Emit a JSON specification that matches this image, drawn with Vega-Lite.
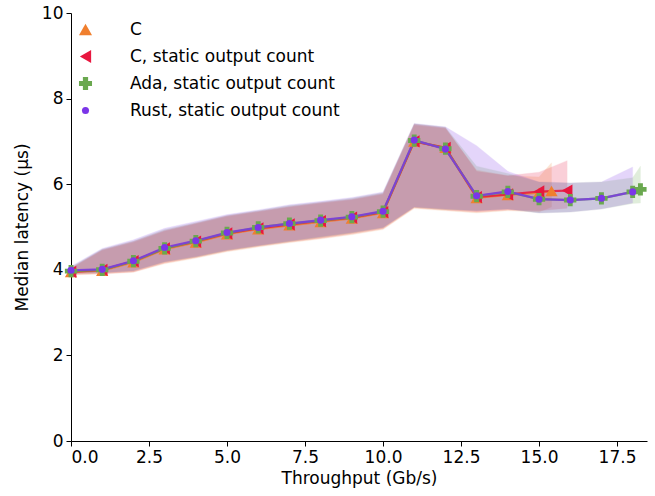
{
"$schema": "https://vega.github.io/schema/vega-lite/v6.json",
"width": 576, "height": 428,
"autosize": {"type": "none"},
"padding": {"left": 71, "top": 13, "right": 8, "bottom": 55},
"background": "white",
"config": {"font": "DejaVu Sans", "view": {"stroke": null},
 "axis": {"grid": false, "domainColor": "black", "tickColor": "black", "labelColor": "black", "titleColor": "black", "labelFontSize": 17, "titleFontSize": 17, "titleFontWeight": "normal", "tickSize": 5, "domainWidth": 1, "tickWidth": 1, "labelPadding": 3},
 "legend": {"labelFontSize": 17, "labelColor": "black", "labelLimit": 0}},
"data": {"values": [
{"s":"C","x":0,"y":3.95,"lo":3.88,"hi":4.03},
{"s":"C","x":1,"y":3.98,"lo":3.9,"hi":4.45},
{"s":"C","x":2,"y":4.18,"lo":3.94,"hi":4.64},
{"s":"C","x":3,"y":4.48,"lo":4.14,"hi":4.9},
{"s":"C","x":4,"y":4.64,"lo":4.27,"hi":5.07},
{"s":"C","x":5,"y":4.83,"lo":4.42,"hi":5.24},
{"s":"C","x":6,"y":4.95,"lo":4.53,"hi":5.35},
{"s":"C","x":7,"y":5.04,"lo":4.63,"hi":5.46},
{"s":"C","x":8,"y":5.12,"lo":4.72,"hi":5.55},
{"s":"C","x":9,"y":5.2,"lo":4.82,"hi":5.63},
{"s":"C","x":10,"y":5.33,"lo":4.94,"hi":5.76},
{"s":"C","x":11,"y":7.0,"lo":5.43,"hi":7.38},
{"s":"C","x":12,"y":6.85,"lo":5.38,"hi":7.3},
{"s":"C","x":13,"y":5.68,"lo":5.33,"hi":6.33},
{"s":"C","x":14,"y":5.75,"lo":5.38,"hi":6.2},
{"s":"C","x":15,"y":5.8,"lo":5.35,"hi":6.17},
{"s":"C","x":15.4,"y":5.84,"lo":5.47,"hi":6.5},
{"s":"C, static output count","x":0,"y":3.95,"lo":3.89,"hi":4.04},
{"s":"C, static output count","x":1,"y":4.0,"lo":3.91,"hi":4.47},
{"s":"C, static output count","x":2,"y":4.2,"lo":3.95,"hi":4.66},
{"s":"C, static output count","x":3,"y":4.5,"lo":4.16,"hi":4.92},
{"s":"C, static output count","x":4,"y":4.66,"lo":4.29,"hi":5.09},
{"s":"C, static output count","x":5,"y":4.85,"lo":4.44,"hi":5.26},
{"s":"C, static output count","x":6,"y":4.97,"lo":4.55,"hi":5.37},
{"s":"C, static output count","x":7,"y":5.06,"lo":4.65,"hi":5.48},
{"s":"C, static output count","x":8,"y":5.14,"lo":4.74,"hi":5.57},
{"s":"C, static output count","x":9,"y":5.22,"lo":4.84,"hi":5.65},
{"s":"C, static output count","x":10,"y":5.35,"lo":4.96,"hi":5.78},
{"s":"C, static output count","x":11,"y":7.0,"lo":5.45,"hi":7.4},
{"s":"C, static output count","x":12,"y":6.85,"lo":5.4,"hi":7.32},
{"s":"C, static output count","x":13,"y":5.7,"lo":5.35,"hi":6.3},
{"s":"C, static output count","x":14,"y":5.76,"lo":5.4,"hi":6.2},
{"s":"C, static output count","x":15,"y":5.83,"lo":5.38,"hi":6.28},
{"s":"C, static output count","x":15.9,"y":5.85,"lo":5.44,"hi":6.55},
{"s":"Ada, static output count","x":0,"y":3.97,"lo":3.91,"hi":4.06},
{"s":"Ada, static output count","x":1,"y":4.0,"lo":3.93,"hi":4.48},
{"s":"Ada, static output count","x":2,"y":4.2,"lo":3.97,"hi":4.67},
{"s":"Ada, static output count","x":3,"y":4.5,"lo":4.18,"hi":4.94},
{"s":"Ada, static output count","x":4,"y":4.67,"lo":4.3,"hi":5.1},
{"s":"Ada, static output count","x":5,"y":4.86,"lo":4.45,"hi":5.27},
{"s":"Ada, static output count","x":6,"y":4.99,"lo":4.56,"hi":5.38},
{"s":"Ada, static output count","x":7,"y":5.08,"lo":4.66,"hi":5.5},
{"s":"Ada, static output count","x":8,"y":5.15,"lo":4.76,"hi":5.58},
{"s":"Ada, static output count","x":9,"y":5.23,"lo":4.86,"hi":5.67},
{"s":"Ada, static output count","x":10,"y":5.36,"lo":4.98,"hi":5.8},
{"s":"Ada, static output count","x":11,"y":7.02,"lo":5.46,"hi":7.41},
{"s":"Ada, static output count","x":12,"y":6.83,"lo":5.41,"hi":7.33},
{"s":"Ada, static output count","x":13,"y":5.72,"lo":5.38,"hi":6.42},
{"s":"Ada, static output count","x":14,"y":5.82,"lo":5.42,"hi":6.25},
{"s":"Ada, static output count","x":15,"y":5.65,"lo":5.33,"hi":6.05},
{"s":"Ada, static output count","x":16,"y":5.63,"lo":5.35,"hi":6.03},
{"s":"Ada, static output count","x":17,"y":5.67,"lo":5.42,"hi":6.05},
{"s":"Ada, static output count","x":18,"y":5.82,"lo":5.55,"hi":6.15},
{"s":"Ada, static output count","x":18.25,"y":5.88,"lo":5.56,"hi":6.42},
{"s":"Rust, static output count","x":0,"y":3.99,"lo":3.92,"hi":4.08},
{"s":"Rust, static output count","x":1,"y":4.01,"lo":3.93,"hi":4.5},
{"s":"Rust, static output count","x":2,"y":4.21,"lo":3.98,"hi":4.7},
{"s":"Rust, static output count","x":3,"y":4.52,"lo":4.19,"hi":4.97},
{"s":"Rust, static output count","x":4,"y":4.68,"lo":4.31,"hi":5.13},
{"s":"Rust, static output count","x":5,"y":4.87,"lo":4.46,"hi":5.29},
{"s":"Rust, static output count","x":6,"y":4.99,"lo":4.57,"hi":5.4},
{"s":"Rust, static output count","x":7,"y":5.08,"lo":4.67,"hi":5.52},
{"s":"Rust, static output count","x":8,"y":5.16,"lo":4.77,"hi":5.6},
{"s":"Rust, static output count","x":9,"y":5.24,"lo":4.87,"hi":5.69},
{"s":"Rust, static output count","x":10,"y":5.37,"lo":4.99,"hi":5.82},
{"s":"Rust, static output count","x":11,"y":7.03,"lo":5.47,"hi":7.42},
{"s":"Rust, static output count","x":12,"y":6.82,"lo":5.42,"hi":7.34},
{"s":"Rust, static output count","x":13,"y":5.73,"lo":5.38,"hi":6.9},
{"s":"Rust, static output count","x":14,"y":5.83,"lo":5.42,"hi":6.3},
{"s":"Rust, static output count","x":15,"y":5.65,"lo":5.33,"hi":6.05},
{"s":"Rust, static output count","x":16,"y":5.63,"lo":5.35,"hi":6.03},
{"s":"Rust, static output count","x":17,"y":5.67,"lo":5.42,"hi":6.05},
{"s":"Rust, static output count","x":18,"y":5.82,"lo":5.56,"hi":6.4}
]},
"layer": [
 {"mark": {"type": "area", "opacity": 0.2, "strokeWidth": 1, "strokeOpacity": 0.3},
  "encoding": {
   "x": {"field": "x", "type": "quantitative", "scale": {"domain": [0, 18.46], "nice": false, "zero": false},
     "axis": {"values": [0, 2.5, 5, 7.5, 10, 12.5, 15, 17.5], "format": ".1f", "title": "Throughput (Gb/s)", "titlePadding": 5}},
   "y": {"field": "lo", "type": "quantitative", "scale": {"domain": [0, 10], "nice": false},
     "axis": {"values": [0, 2, 4, 6, 8, 10], "format": "d", "title": "Median latency (µs)", "titlePadding": 10}},
   "y2": {"field": "hi"},
   "fill": {"field": "s", "type": "nominal", "legend": null,
     "scale": {"domain": ["Ada, static output count", "C", "C, static output count", "Rust, static output count"], "range": ["#6aa84f", "#f07f2e", "#e8173f", "#7b35e8"]}},
   "stroke": {"field": "s", "type": "nominal", "legend": null,
     "scale": {"domain": ["Rust, static output count", "Ada, static output count", "C", "C, static output count"], "range": ["#7b35e8", "#6aa84f", "#f07f2e", "#e8173f"]}}
  }},
 {"mark": {"type": "line", "strokeWidth": 2.2, "opacity": 0.85},
  "encoding": {"x": {"field": "x", "type": "quantitative"}, "y": {"field": "y", "type": "quantitative"}, "stroke": {"field": "s", "type": "nominal", "legend": null}}},
 {"mark": {"type": "point", "filled": true, "opacity": 1},
  "encoding": {
   "x": {"field": "x", "type": "quantitative"},
   "y": {"field": "y", "type": "quantitative"},
   "color": {"field": "s", "type": "nominal",
     "scale": {"domain": ["C", "C, static output count", "Ada, static output count", "Rust, static output count"], "range": ["#f07f2e", "#e8173f", "#6aa84f", "#7b35e8"]},
     "legend": {"title": null, "orient": "none", "legendX": 6, "legendY": 8, "padding": 0, "labelOffset": 36, "rowPadding": 9, "symbolSize": 160, "symbolOpacity": 1,
       "encode": {"symbols": {"update": {"size": {"signal": "datum.value === 'Rust, static output count' ? 50 : 170"}}}}}},
   "shape": {"field": "s", "type": "nominal",
     "scale": {"domain": ["C", "C, static output count", "Ada, static output count", "Rust, static output count"], "range": ["triangle-up", "triangle-left", "cross", "circle"]}},
   "size": {"condition": {"test": "datum.s === 'Rust, static output count'", "value": 50}, "value": 150}
  }}
]
}
